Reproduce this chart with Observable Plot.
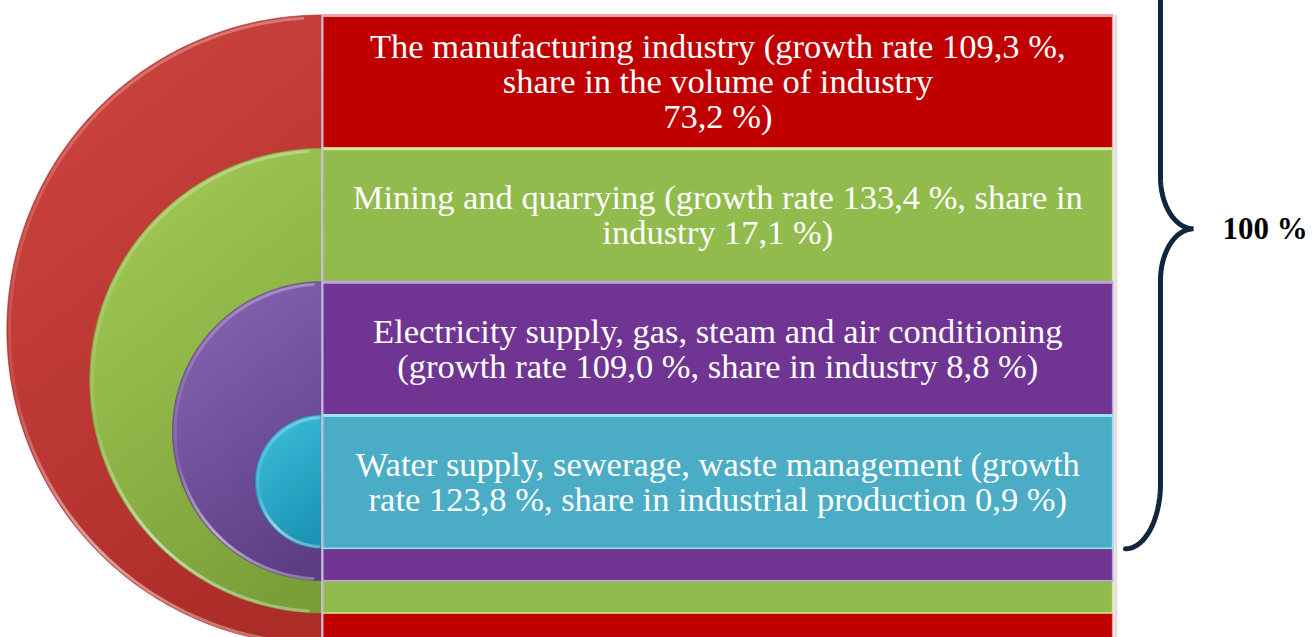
<!DOCTYPE html>
<html>
<head>
<meta charset="utf-8">
<script src="https://cdn.jsdelivr.net/npm/d3@7"></script>
<script src="https://cdn.jsdelivr.net/npm/@observablehq/plot@0.6"></script>
<style>
  html, body { margin: 0; padding: 0; background: #fff; overflow: hidden; }
  #chart svg { display: block; }
</style>
</head>
<body>
<div id="chart"></div>
<script>
// ---- data ----
const sectors = [
  "The manufacturing industry",
  "Mining and quarrying",
  "Electricity supply, gas, steam and air conditioning",
  "Water supply, sewerage, waste management"
];
const growthRates = [109.3, 133.4, 109.0, 123.8];
const shares = [73.2, 17.1, 8.8, 0.9];
const labels = [
  "The manufacturing industry (growth rate 109,3 %,\nshare in the volume of industry\n73,2 %)",
  "Mining and quarrying (growth rate 133,4 %, share in\nindustry 17,1 %)",
  "Electricity supply, gas, steam and air conditioning\n(growth rate 109,0 %, share in industry 8,8 %)",
  "Water supply, sewerage, waste management (growth\nrate 123,8 %, share in industrial production 0,9 %)"
];
const totalLabel = "100 %";

// ---- styles ----
const rectColors   = ["#C00000", "#92BB4E", "#703593", "#4BACC6"];
const discTop      = ["#CC443F", "#A2C955", "#8464B0", "#3BBCD9"];
const discBottom   = ["#AC2C28", "#7A9F38", "#5D3D85", "#1B93B4"];
const edgeColors   = ["#E8A4A8", "#D2E8A0", "#BFA3DB", "#98E5F4"];
const seamColor = "#C4B8DC";
const braceColor = "#10253F";

// ---- layout (abstract units: one nesting step = 1) ----
const n = sectors.length;
const strip = 0.2425;          // thickness of each bottom strip
const rightEdge = 5.93;        // right edge of the label boxes
const rows = sectors.map((s, i) => {
  const top = i, bottom = n + (n - 1 - i) * strip;
  return {i, sector: s, growth: growthRates[i], share: shares[i], label: labels[i],
          top, bottom, cy: (top + bottom) / 2, r: (bottom - top) / 2, textY: top + 0.5};
});

function discPoints(row) {
  const pts = [];
  for (let k = 0; k <= 160; k++) {
    const t = -Math.PI / 2 + Math.PI * k / 160;
    pts.push({y: row.cy + row.r * Math.sin(t), x2: -row.r * Math.cos(t)});
  }
  return pts;
}
function rimPoints(row, inset, a0, a1) {
  const pts = [];
  const rr = row.r - inset;
  for (let k = 0; k <= 160; k++) {
    const t = a0 + (a1 - a0) * k / 160;
    pts.push({y: row.cy + rr * Math.sin(t), x: -rr * Math.cos(t)});
  }
  return pts;
}

// brace geometry (derived from the last box's bottom and middle)
const braceBottom = rows[n - 1].bottom;
const braceTipY = 1.6;
const braceLineX = 6.285, braceEndX = 6.0225, braceTipX = 6.533;
const hookH = 0.49, tipH = 0.39;
function bracePoints() {
  const pts = [];
  const seg = (cx, cy, rx, ry, a0, a1) => {
    for (let k = 0; k <= 40; k++) {
      const a = a0 + (a1 - a0) * k / 40;
      pts.push({x: cx + rx * Math.cos(a), y: cy + ry * Math.sin(a)});
    }
  };
  const topEnd = 2 * braceTipY - braceBottom;
  seg(braceEndX, braceBottom - hookH, braceLineX - braceEndX, hookH, Math.PI / 2, 0);
  seg(braceTipX, braceTipY + tipH, braceTipX - braceLineX, tipH, Math.PI, 1.5 * Math.PI);
  seg(braceTipX, braceTipY - tipH, braceTipX - braceLineX, tipH, 0.5 * Math.PI, Math.PI);
  seg(braceEndX, topEnd + hookH, braceLineX - braceEndX, hookH, 0, -Math.PI / 2);
  return pts;
}

// ---- marks ----
const marks = [];
rows.forEach(row => {
  const i = row.i;
  marks.push(Plot.areaX(discPoints(row), {
    x1: () => 0, x2: "x2", y: "y", fill: `url(#disc${i})`, curve: "linear",
    stroke: discBottom[i], strokeWidth: 1, strokeOpacity: 0.6
  }));
  // glossy rim along the outer edge
  marks.push(Plot.line(rimPoints(row, 0.016, -Math.PI * 0.48, Math.PI * 0.48), {
    x: "x", y: "y", stroke: "url(#rim)", strokeWidth: 3, curve: "linear"
  }));
  marks.push(Plot.rect([row], {
    x1: () => 0, x2: () => rightEdge, y1: d => d.top, y2: d => d.bottom,
    fill: rectColors[i], stroke: edgeColors[i], strokeWidth: 1.5
  }));
  marks.push(Plot.ruleY([row], {
    y: d => d.top, x1: () => 0, x2: () => rightEdge, stroke: edgeColors[i], strokeWidth: 3
  }));
  marks.push(Plot.ruleX([row], {
    x: () => 0, y1: d => d.top, y2: d => d.bottom, stroke: seamColor, strokeWidth: 2
  }));
});
marks.push(Plot.ruleX([rows[0]], {
  x: () => rightEdge + 0.02, y1: d => d.top, y2: d => d.bottom, stroke: "#E6DCE0", strokeWidth: 3
}));
marks.push(Plot.text(rows, {
  x: () => rightEdge / 2, y: "textY", text: "label",
  fill: "white", fontSize: 34.5, lineHeight: 1.015,
  fontFamily: "'Liberation Serif', 'Times New Roman', serif",
  textAnchor: "middle"
}));
marks.push(Plot.line(bracePoints(), {
  x: "x", y: "y", stroke: braceColor, strokeWidth: 5, curve: "linear", strokeLinejoin: "miter"
}));
marks.push(Plot.text([totalLabel], {
  x: () => 6.75, y: () => braceTipY, text: d => d,
  fill: "black", fontSize: 31, fontWeight: "bold",
  fontFamily: "'Liberation Serif', 'Times New Roman', serif",
  textAnchor: "start"
}));

const PX = 133.33;
const chart = Plot.plot({
  width: 1312, height: 637,
  margin: 0,
  x: {type: "linear", domain: [-322 / PX, (1312 - 322) / PX], range: [0, 1312], axis: null},
  y: {type: "linear", domain: [-15 / PX, (637 - 15) / PX], range: [0, 637], axis: null},
  style: {background: "white", overflow: "hidden"},
  marks
});

// gradients
const defs = d3.select(chart).insert("defs", ":first-child");
rows.forEach(row => {
  const g = defs.append("linearGradient").attr("id", `disc${row.i}`)
    .attr("x1", 0.3).attr("y1", 0).attr("x2", 0.7).attr("y2", 1);
  g.append("stop").attr("offset", 0).attr("stop-color", discTop[row.i]);
  g.append("stop").attr("offset", 1).attr("stop-color", discBottom[row.i]);
});
const rim = defs.append("linearGradient").attr("id", "rim")
  .attr("x1", 0).attr("y1", 0).attr("x2", 0).attr("y2", 1);
[[0, 0.3], [0.3, 0.15], [0.6, 0.1], [0.85, 0.55], [1, 0.3]].forEach(([o, a]) =>
  rim.append("stop").attr("offset", o).attr("stop-color", "white").attr("stop-opacity", a));

document.getElementById("chart").appendChild(chart);
</script>
</body>
</html>
